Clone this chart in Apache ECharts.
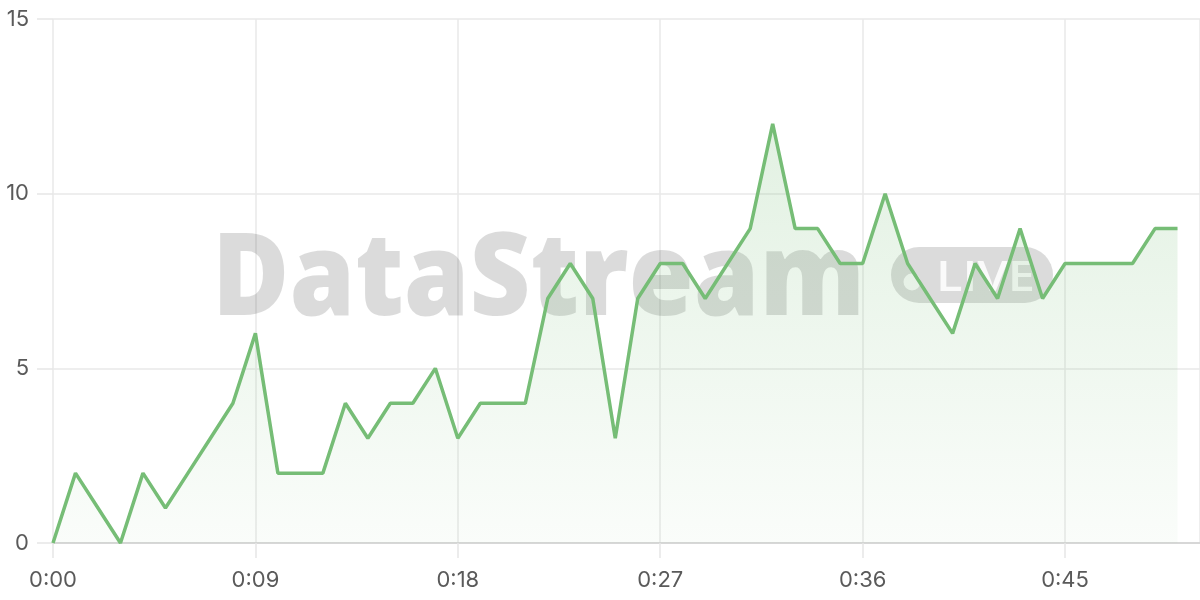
<!DOCTYPE html>
<html>
<head>
<meta charset="utf-8">
<script src="https://cdn.jsdelivr.net/npm/echarts@6/dist/echarts.min.js"></script>
<style>
html,body{margin:0;padding:0;background:#fff;}
#chart{width:1200px;height:600px;}
</style>
</head>
<body>
<div id="chart"></div>
<script>
// elapsed seconds
const seconds = [0,1,2,3,4,5,6,7,8,9,10,11,12,13,14,15,16,17,18,19,20,21,22,23,24,25,26,27,28,29,30,31,32,33,34,35,36,37,38,39,40,41,42,43,44,45,46,47,48,49,50];
const values  = [0,2,1,0,2,1,2,3,4,6,2,2,2,4,3,4,4,5,3,4,4,4,7,8,7,3,7,8,8,7,8,9,12,9,9,8,8,10,8,7,6,8,7,9,7,8,8,8,8,9,9];
const yTicks = [0,5,10,15];
const xTickSeconds = [0,9,18,27,36,45];

function fmt(v){
  const m = Math.floor(v/60), s = Math.round(v%60);
  return m + ':' + String(s).padStart(2,'0');
}

// fit watermark widths
const mctx = document.createElement('canvas').getContext('2d');
const wmFont = '800 116px "Open Sans", sans-serif';
mctx.font = wmFont;
const wmScale = 653 / mctx.measureText('DataStream').width;
const liveFont = '600 42px "Open Sans", sans-serif';
mctx.font = liveFont;
const liveScale = 99 / mctx.measureText('LIVE').width;

const chart = echarts.init(document.getElementById('chart'), null, {renderer:'canvas'});
const labelFont = '"Inter", "Liberation Sans", sans-serif';
const wmColor = 'rgba(0,0,0,0.14)';
chart.setOption({
  animation:false,
  backgroundColor:'#fff',
  grid:{left:53,right:0,top:19,bottom:57,containLabel:false},
  xAxis:{
    type:'value',
    min:0, max:51, interval:9,
    axisLine:{show:true,lineStyle:{color:'#cfcfcf',width:1.5}},
    axisTick:{show:true,length:15,lineStyle:{color:'#e6e6e6',width:1.5}},
    splitLine:{show:true,lineStyle:{color:'#e8e8e8',width:1.5}},
    axisLabel:{
      showMaxLabel:false,
      color:'#5a5a5a', fontSize:22, fontFamily:labelFont, margin:26,
      formatter:function(v){ return xTickSeconds.indexOf(v) >= 0 ? fmt(v) : ''; }
    }
  },
  yAxis:{
    type:'value',
    min:yTicks[0], max:yTicks[yTicks.length-1], interval:5,
    axisLine:{show:false},
    axisTick:{show:true,length:16,lineStyle:{color:'#e6e6e6',width:1.5}},
    splitLine:{show:true,lineStyle:{color:'#e8e8e8',width:1.5}},
    axisLabel:{color:'#5a5a5a', fontSize:22, fontFamily:labelFont, margin:24}
  },
  graphic:[
    {
      type:'group', z:1,
      children:[
        {type:'text', z:1, x:212, y:224, scaleX:wmScale, originX:0, originY:0,
         style:{text:'DataStream', fill:wmColor, font:wmFont, textVerticalAlign:'top', textAlign:'left'}},
        {type:'rect', z:1, shape:{x:891,y:247,width:162,height:56,r:28},
         style:{fill:wmColor}},
        {type:'circle', z:1, shape:{cx:912,cy:282,r:8.5}, style:{fill:'rgba(255,255,255,0.85)'}},
        {type:'text', z:1, x:936, y:258, scaleX:liveScale, originX:0, originY:0,
         style:{text:'LIVE', fill:'rgba(255,255,255,0.85)', font:liveFont, textVerticalAlign:'top', textAlign:'left'}}
      ]
    }
  ],
  series:[{
    type:'line',
    z:3,
    data: seconds.map((s,i)=>[s, values[i]]),
    showSymbol:false,
    lineStyle:{color:'#76bd76', width:3.5},
    itemStyle:{color:'#76bd76'},
    areaStyle:{
      color:new echarts.graphic.LinearGradient(0,0,0,1,[
        {offset:0,color:'rgba(118,189,118,0.30)'},
        {offset:1,color:'rgba(118,189,118,0.05)'}
      ])
    }
  }]
});
</script>
</body>
</html>
